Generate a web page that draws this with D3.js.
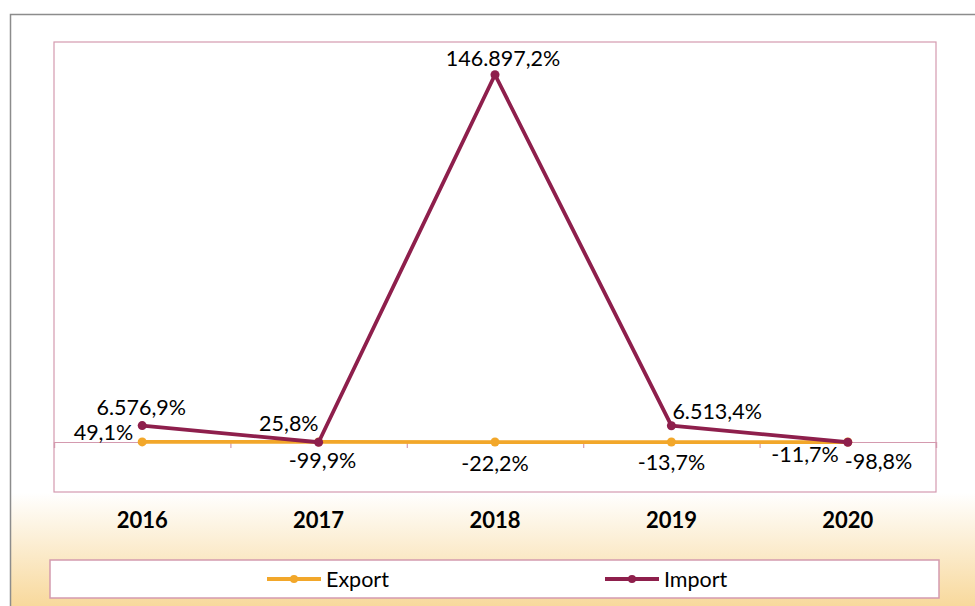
<!DOCTYPE html>
<html>
<head>
<meta charset="utf-8">
<script src="https://cdn.jsdelivr.net/npm/d3@7"></script>
<style>
  body { margin: 0; background: #fff; }
  text { font-family: Lato, "Open Sans", sans-serif; }
</style>
</head>
<body>
<script>
// data
var years = ["2016", "2017", "2018", "2019", "2020"];
var exportVals = [49.1, 25.8, -22.2, -13.7, -11.7];
var importVals = [6576.9, -99.9, 146897.2, 6513.4, -98.8];
var yDomain = [-20000, 160000];

// label placement per point: [dx, dy, anchor]
var exportLabelPos = [[-9, -9, "end"], [0, -18, "end"], [0, 21, "middle"], [0, 20, "middle"], [-9, 12, "end"]];
var importLabelPos = [[-1, -18, "middle"], [4, 18, "middle"], [8, -16, "middle"], [1, -14, "start"], [-3, 19, "start"]];

var W = 975, H = 606;
var plot = {left: 54, right: 936, top: 42, bottom: 492};

var colors = {Export: "#F2A72A", Import: "#8E1F4C"};
var pink = "#D49AAF";

function fmt(v) {
  // 1234.5 -> 1.234,5
  var s = Math.abs(v).toFixed(1).split(".");
  var int = s[0].replace(/\B(?=(\d{3})+(?!\d))/g, ".");
  return (v < 0 ? "-" : "") + int + "," + s[1] + "%";
}

var svg = d3.select("body").append("svg")
    .attr("width", W)
    .attr("height", H);

// background gradient
var grad = svg.append("defs").append("linearGradient")
    .attr("id", "bg").attr("x1", 0).attr("y1", 0).attr("x2", 0).attr("y2", 1);
grad.append("stop").attr("offset", "0.79").attr("stop-color", "#ffffff");
grad.append("stop").attr("offset", "1").attr("stop-color", "#F7D490");

svg.append("rect")
    .attr("x", 10).attr("y", 14)
    .attr("width", W).attr("height", H)
    .attr("fill", "url(#bg)");

// outer frame
svg.append("path")
    .attr("d", "M10.5," + H + "V14.5H" + W)
    .attr("fill", "none")
    .attr("stroke", "#8c8c8c")
    .attr("stroke-width", 1.5);

// plot area
svg.append("rect")
    .attr("x", plot.left).attr("y", plot.top)
    .attr("width", plot.right - plot.left).attr("height", plot.bottom - plot.top)
    .attr("fill", "#fff")
    .attr("stroke", pink)
    .attr("stroke-width", 1.2);

var x = d3.scaleBand()
    .domain(years)
    .range([plot.left, plot.right]);

var y = d3.scaleLinear()
    .domain(yDomain)
    .range([plot.bottom, plot.top]);

// zero axis with ticks on category boundaries
var xEdges = d3.scaleLinear()
    .domain([0, years.length])
    .range([plot.left, plot.right]);

svg.append("g")
    .attr("transform", "translate(0," + y(0) + ")")
    .call(d3.axisBottom(xEdges).ticks(years.length).tickSize(6).tickFormat(""))
    .call(function(g) {
      g.selectAll("path, line").attr("stroke", pink).attr("stroke-width", 1.2);
    });

// category labels
svg.append("g")
    .attr("transform", "translate(0," + plot.bottom + ")")
    .call(d3.axisBottom(x).tickSize(0).tickPadding(20))
    .call(function(g) {
      g.select(".domain").remove();
      g.selectAll("text")
        .attr("font-family", "Lato, sans-serif")
        .attr("font-size", 22)
        .attr("font-weight", "bold")
        .attr("fill", "#000");
    });

var line = d3.line()
    .x(function(d, i) { return x(years[i]) + x.bandwidth() / 2; })
    .y(function(d) { return y(d); });

var series = [
  {name: "Export", values: exportVals, pos: exportLabelPos},
  {name: "Import", values: importVals, pos: importLabelPos}
];

series.forEach(function(s) {
  var g = svg.append("g");
  g.append("path")
    .datum(s.values)
    .attr("d", line)
    .attr("fill", "none")
    .attr("stroke", colors[s.name])
    .attr("stroke-width", 3.8)
    .attr("stroke-linejoin", "round");

  g.selectAll("circle")
    .data(s.values)
    .enter().append("circle")
    .attr("cx", function(d, i) { return x(years[i]) + x.bandwidth() / 2; })
    .attr("cy", function(d) { return y(d); })
    .attr("r", 4.5)
    .attr("fill", colors[s.name]);
});

// data labels
series.forEach(function(s) {
  svg.append("g").selectAll("text")
    .data(s.values)
    .enter().append("text")
    .attr("x", function(d, i) { return x(years[i]) + x.bandwidth() / 2 + s.pos[i][0]; })
    .attr("y", function(d, i) { return y(d) + s.pos[i][1]; })
    .attr("dy", "0.35em")
    .attr("text-anchor", function(d, i) { return s.pos[i][2]; })
    .attr("font-size", 21.5)
    .attr("fill", "#000")
    .text(fmt);
});

// legend
var leg = {left: 50, right: 939, top: 560, bottom: 598};
svg.append("rect")
    .attr("x", leg.left).attr("y", leg.top)
    .attr("width", leg.right - leg.left).attr("height", leg.bottom - leg.top)
    .attr("fill", "#fff")
    .attr("stroke", pink)
    .attr("stroke-width", 1.5);

var legX = {Export: 267, Import: 605};
var legY = (leg.top + leg.bottom) / 2;
series.forEach(function(s) {
  var g = svg.append("g").attr("transform", "translate(" + legX[s.name] + "," + legY + ")");
  g.append("line")
    .attr("x1", 0).attr("x2", 54)
    .attr("stroke", colors[s.name])
    .attr("stroke-width", 3.8);
  g.append("circle")
    .attr("cx", 27).attr("r", 4)
    .attr("fill", colors[s.name]);
  g.append("text")
    .attr("x", 59)
    .attr("dy", "0.35em")
    .attr("font-size", 21.5)
    .attr("fill", "#000")
    .text(s.name);
});
</script>
</body>
</html>
